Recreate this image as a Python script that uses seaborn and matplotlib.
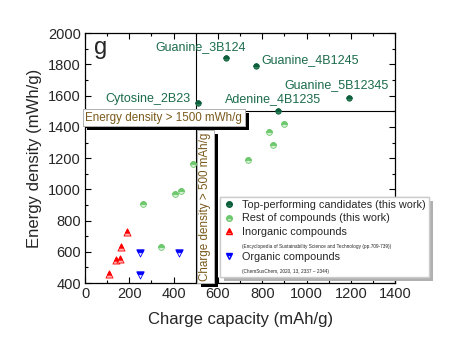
import numpy as np
import matplotlib
matplotlib.use("Agg")
import matplotlib.pyplot as plt
import matplotlib.patheffects as pe
from matplotlib.markers import MarkerStyle
from matplotlib.lines import Line2D
import seaborn as sns

# Top-performing candidates (this work)
top_names = ["Cytosine_2B23", "Guanine_3B124", "Guanine_4B1245", "Adenine_4B1235", "Guanine_5B12345"]
top_capacity = [510, 637, 772, 873, 1190]
top_energy = [1552, 1842, 1792, 1505, 1586]

# Rest of compounds (this work)
rest_capacity = [489, 737, 830, 850, 897, 260, 405, 435, 343]
rest_energy = [1160, 1186, 1366, 1286, 1420, 906, 968, 990, 630]

# Inorganic compounds
inorg_capacity = [107, 140, 160, 163, 190]
inorg_energy = [456, 550, 557, 632, 726]

# Organic compounds
org_capacity = [248, 248, 425]
org_energy = [590, 450, 590]

# label anchor points (left edge of text)
label_x = [90, 316, 795, 632, 899]
label_y = [1576, 1910, 1827, 1576, 1667]

sns.set_style("ticks")
plt.rcParams['font.family'] = ['Liberation Sans', 'DejaVu Sans']

fig = plt.figure(figsize=(4.5, 3.53), dpi=100)
ax = fig.add_axes([0.189, 0.198, 0.689, 0.708])

def half_scatter(x, y, marker, main, alt, size):
    # full marker in the light colour, then the top half in the main colour
    sns.scatterplot(x=x, y=y, marker=marker, s=size, color=alt, edgecolor=main,
                    linewidth=0.6, legend=False, ax=ax, zorder=3)
    sns.scatterplot(x=x, y=y, marker=MarkerStyle(marker, fillstyle='top'), s=size,
                    color=main, edgecolor=main, linewidth=0.6, legend=False, ax=ax, zorder=4)

dark_green = '#0d5e3c'
light_green = '#6ec86e'
half_scatter(top_capacity, top_energy, 'o', dark_green, '#2f7f57', 15)
half_scatter(rest_capacity, rest_energy, 'o', light_green, '#d6f0d6', 17)
half_scatter(inorg_capacity, inorg_energy, '^', '#ff0000', '#ffb4b4', 26)
half_scatter(org_capacity, org_energy, 'v', '#0000ff', '#ffffff', 26)

# threshold lines
ax.axvline(500, color='black', lw=0.8, zorder=2)
ax.plot([500, 1400], [1500, 1500], color='black', lw=0.8, zorder=2)

label_color = '#1b6b4b'
for name, lx, ly in zip(top_names, label_x, label_y):
    ax.text(lx, ly, name, color=label_color, fontsize=9, ha='left', va='center', zorder=5)

ax.text(0.03, 0.985, "g", transform=ax.transAxes, fontsize=17, ha='left', va='top')

shadow = [pe.withSimplePatchShadow(offset=(3, -3), shadow_rgbFace='black', alpha=1.0), pe.Normal()]
box_color = '#7a5a1c'
t1 = ax.text(355, 1460, "Energy density > 1500 mWh/g", color=box_color, fontsize=8.4,
             ha='center', va='center', zorder=6, clip_on=False,
             bbox=dict(boxstyle='square,pad=0.22', fc='white', ec='#aaaaaa', lw=0.6))
t1.get_bbox_patch().set_path_effects(shadow)
t2 = ax.text(543, 890, "Charge density > 500 mAh/g", color=box_color, fontsize=8.4,
             rotation=90, ha='center', va='center', zorder=6,
             bbox=dict(boxstyle='square,pad=0.2', fc='white', ec='#aaaaaa', lw=0.6))
t2.get_bbox_patch().set_path_effects(shadow)

ax.set_xlim(0, 1400)
ax.set_ylim(400, 2000)
ax.set_xticks(np.arange(0, 1401, 200))
ax.set_yticks(np.arange(400, 2001, 200))
ax.set_xticks(np.arange(0, 1401, 100), minor=True)
ax.set_yticks(np.arange(400, 2001, 100), minor=True)
ax.tick_params(which='both', direction='in', top=True, right=True, width=0.8, color='black')
ax.tick_params(which='major', length=4, labelsize=10.5, pad=3)
ax.tick_params(which='minor', length=2)
for sp in ax.spines.values():
    sp.set_linewidth(0.9)
    sp.set_color('black')
ax.set_xlabel("Charge capacity (mAh/g)", fontsize=12, labelpad=8)
ax.set_ylabel("Energy density (mWh/g)", fontsize=12, labelpad=4)

handles = [
    Line2D([], [], ls='none', marker='o', ms=4, mfc=dark_green, mec=dark_green, fillstyle='top', markerfacecoloralt='#2f7f57'),
    Line2D([], [], ls='none', marker='o', ms=4, mfc=light_green, mec=light_green, fillstyle='top', markerfacecoloralt='#d6f0d6'),
    Line2D([], [], ls='none', marker='^', ms=4.5, mfc='#ff0000', mec='#ff0000', fillstyle='top', markerfacecoloralt='#ffb4b4'),
    Line2D([], [], ls='none'),
    Line2D([], [], ls='none', marker='v', ms=4.5, mfc='#0000ff', mec='#0000ff', fillstyle='top', markerfacecoloralt='white'),
    Line2D([], [], ls='none'),
]
labels = [
    "Top-performing candidates (this work)",
    "Rest of compounds (this work)",
    "Inorganic compounds",
    "(Encyclopedia of Sustainability Science and Technology (pp.709-739))",
    "Organic compounds",
    "(ChemSusChem, 2020, 13, 2337 \u2013 2344)",
]
leg = ax.legend(handles, labels, loc='upper left', bbox_to_anchor=(0.489, 0.442),
                bbox_transform=fig.transFigure, borderaxespad=0, fontsize=7.8,
                handlelength=1.0, handletextpad=0.7, labelspacing=0.3,
                borderpad=0.3, fancybox=False, framealpha=1, edgecolor='#cccccc')
leg.get_frame().set_path_effects([pe.withSimplePatchShadow(offset=(3, -3), shadow_rgbFace='#b0b0b0', alpha=1.0), pe.Normal()])
leg.set_zorder(7)
for i in (3, 5):
    leg.get_texts()[i].set_fontsize(3.4)

fig.savefig("out.png", dpi=100)
